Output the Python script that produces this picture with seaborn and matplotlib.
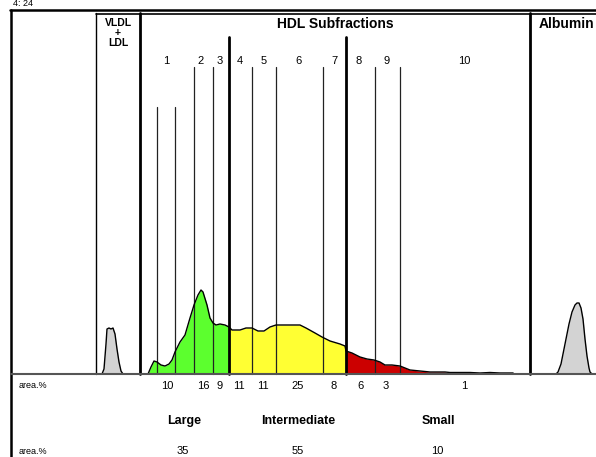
import numpy as np
import pandas as pd
import matplotlib
matplotlib.use("Agg")
import matplotlib.pyplot as plt
import seaborn as sns

sns.set_style("white")
plt.rcParams['font.family'] = ['Liberation Sans', 'DejaVu Sans']
plt.rcParams['text.color'] = 'black'

# ---- data (positions in migration units = pixel columns, heights above baseline) ----
vldl_x = [102, 104, 106, 107, 109, 111, 113, 115, 117, 119, 121, 123]
vldl_h = [0, 5, 30, 45, 46, 45, 46, 40, 25, 12, 3, 0]

hdl_x = [148, 151, 154, 157, 161, 165, 169, 172, 175, 180, 185, 190, 194, 198, 201, 203,
         207, 210, 213, 216, 220, 225, 229, 232, 240, 246, 252, 258, 264, 270, 276, 290,
         300, 306, 315, 322, 330, 340, 345, 346, 352, 360, 367, 374, 380, 385, 392, 400,
         405, 410, 420, 430, 445, 450, 470, 480, 490, 500, 513, 514]
hdl_h = [0, 7, 13, 12, 9, 8, 10, 14, 22, 32, 39, 56, 69, 79, 84, 82,
         69, 56, 51, 49, 50, 49, 47, 44, 44, 46, 46, 43, 43, 47, 49, 49,
         49, 46, 41, 37, 33, 30, 28, 23, 21, 17, 15, 14, 12, 9, 9, 8,
         6, 4, 3, 2, 2, 1.5, 1.5, 1, 1.5, 1, 1, 0]

alb_x = [556, 558, 561, 565, 569, 572, 575, 577, 579, 581, 583, 585, 587, 589, 590, 592]
alb_h = [0, 2, 10, 30, 50, 62, 69, 71, 71, 66, 55, 35, 18, 6, 2, 0]

thin_bounds = [157, 175, 194, 213, 252, 276, 323, 375, 400]
thin_tops = [107, 107, 67, 67, 67, 67, 67, 67, 67]
thick_bounds = [229, 346]
frame_bounds = [96, 140, 530]
frame_widths = [1.0, 2.0, 2.0]

sub_labels = ["1", "2", "3", "4", "5", "6", "7", "8", "9", "10"]
sub_label_x = [166, 201, 220, 240, 264, 298, 334, 359, 387, 464]
sub_area = ["10", "16", "9", "11", "11", "25", "8", "6", "3", "1"]
sub_area_x = [167, 203, 220, 239, 263, 298, 334, 360, 386, 464]

group_names = ["Large", "Intermediate", "Small"]
group_x = [184, 298, 438]
group_area = ["35", "55", "10"]
group_area_x = [183, 298, 437]

fill_regions = [(148, 229, "#5CFF2E"), (229, 346, "#FFFF33"), (346, 445, "#CC0000"), (445, 514, "#D3D3D3")]

# ---- figure ----
fig = plt.figure(figsize=(5.96, 4.57), dpi=100)
ax = fig.add_axes([0, 0, 1, 1])
ax.axis("off")

def Y(row):
    return 374 - row

base = Y(374)

xx = np.array(hdl_x, float)
hh = np.array(hdl_h, float)
for x0, x1, c in fill_regions:
    m = (xx >= x0) & (xx <= x1)
    ax.fill_between(xx, base, base + hh, where=m, color=c, lw=0, interpolate=True, zorder=1)

ax.fill_between(vldl_x, base, base + np.array(vldl_h), color="#D3D3D3", lw=0, zorder=1)
ax.fill_between(alb_x, base, base + np.array(alb_h), color="#D3D3D3", lw=0, zorder=1)

for xs, hs in [(vldl_x, vldl_h), (hdl_x, hdl_h), (alb_x, alb_h)]:
    d = pd.DataFrame({"x": xs, "y": base + np.array(hs)})
    sns.lineplot(data=d, x="x", y="y", ax=ax, color="black", lw=1.0, sort=False,
                 estimator=None, zorder=4)
ax.set_xlabel(""); ax.set_ylabel("")
ax.set_xlim(0, 596)
ax.set_ylim(-83, 374)   # data y = 374 - pixel row

# vertical boundaries
for x, t in zip(thin_bounds, thin_tops):
    ax.plot([x, x], [base, Y(t)], color="#222222", lw=0.9, zorder=3)
for x in thick_bounds:
    ax.plot([x, x], [base, Y(37)], color="black", lw=2.0, zorder=3)
for x, w in zip(frame_bounds, frame_widths):
    ax.plot([x, x], [base, Y(13)], color="black", lw=w, zorder=3)

# baseline & frame
ax.plot([11, 596], [base, base], color="#555555", lw=1.5, zorder=5)
ax.plot([11, 11], [Y(10), Y(457)], color="black", lw=1.8, zorder=3)
ax.plot([10, 596], [Y(10), Y(10)], color="black", lw=1.8, zorder=3)
ax.plot([96, 596], [Y(13.5), Y(13.5)], color="black", lw=1.2, zorder=3)

# headers
ax.text(335, Y(24), "HDL Subfractions", ha="center", va="center", fontsize=10, fontweight="bold")
ax.text(566, Y(24), "Albumin", ha="center", va="center", fontsize=10, fontweight="bold")
ax.text(118, Y(33), "VLDL\n+\nLDL", ha="center", va="center", fontsize=7.5, fontweight="bold",
        linespacing=0.95)
ax.text(13, Y(3), "4: 24", ha="left", va="center", fontsize=6.5)

for lab, x in zip(sub_labels, sub_label_x):
    ax.text(x, Y(61), lab, ha="center", va="center", fontsize=8)
ax.text(33, Y(386), "area.%", ha="center", va="center", fontsize=6.5)
for lab, x in zip(sub_area, sub_area_x):
    ax.text(x, Y(386), lab, ha="center", va="center", fontsize=8)
for lab, x in zip(group_names, group_x):
    ax.text(x, Y(421), lab, ha="center", va="center", fontsize=9, fontweight="bold")
ax.text(33, Y(451), "area.%", ha="center", va="center", fontsize=6.5)
for lab, x in zip(group_area, group_area_x):
    ax.text(x, Y(451), lab, ha="center", va="center", fontsize=8)

fig.savefig("out.png", dpi=100)
